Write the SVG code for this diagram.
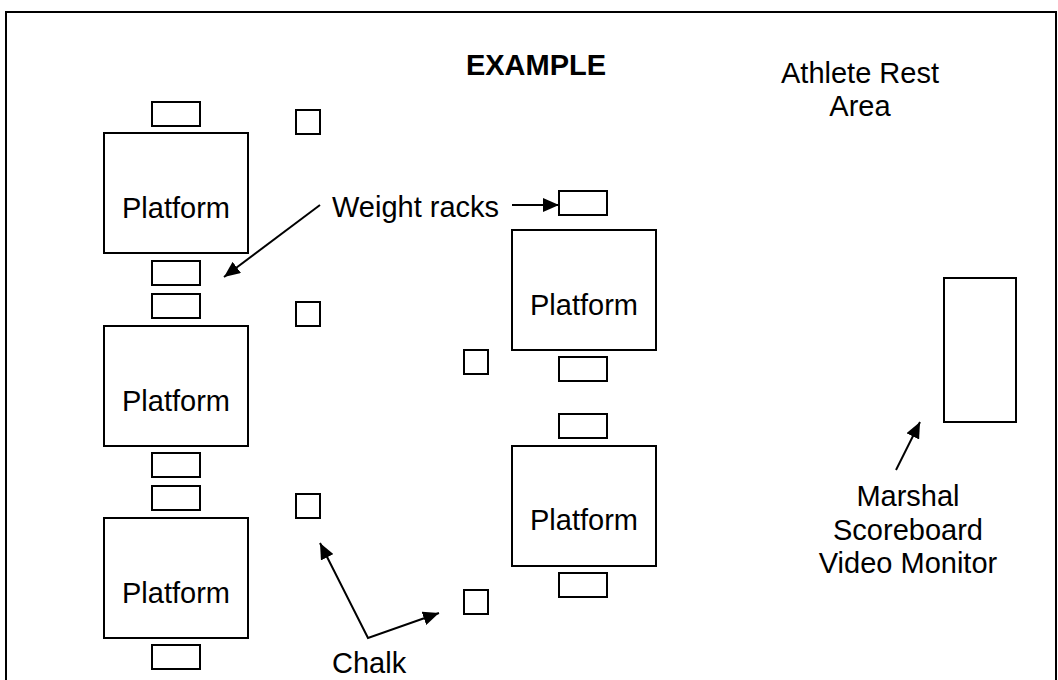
<svg xmlns="http://www.w3.org/2000/svg" width="1058" height="680" viewBox="0 0 1058 680">
  <style>
    .box { fill: #fff; stroke: #000; stroke-width: 2; }
    .lbl { font-family: "Liberation Sans", Arial, sans-serif; font-size: 29px; fill: #000; }
    .title { font-family: "Liberation Sans", Arial, sans-serif; font-size: 29px; font-weight: bold; fill: #000; }
    .arrow { fill: none; stroke: #000; stroke-width: 2; }
  </style>
  <defs>
    <marker id="ah" markerUnits="userSpaceOnUse" markerWidth="18" markerHeight="14" refX="16" refY="7" orient="auto-start-reverse">
      <path d="M0,0 L16,7 L0,14 z" fill="#000"/>
    </marker>
  </defs>
  <rect width="1058" height="680" fill="#fff"/>
  <g id="border">
    <path d="M6,680 L6,12 L1056,12 L1056,680" fill="none" stroke="#000" stroke-width="2"/>
  </g>
  <g id="title"><text class="title" x="536" y="75" text-anchor="middle">EXAMPLE</text></g>
  <g id="rest-area">
    <text class="lbl" x="860" y="83" text-anchor="middle">Athlete Rest</text>
    <text class="lbl" x="860" y="116" text-anchor="middle">Area</text>
  </g>
  <g id="platform1"><rect class="box" x="104" y="133" width="144" height="120"/><text class="lbl" x="176" y="218" text-anchor="middle">Platform</text></g>
  <g id="platform2"><rect class="box" x="104" y="326" width="144" height="120"/><text class="lbl" x="176" y="411" text-anchor="middle">Platform</text></g>
  <g id="platform3"><rect class="box" x="104" y="518" width="144" height="120"/><text class="lbl" x="176" y="603" text-anchor="middle">Platform</text></g>
  <g id="platform4"><rect class="box" x="512" y="230" width="144" height="120"/><text class="lbl" x="584" y="315" text-anchor="middle">Platform</text></g>
  <g id="platform5"><rect class="box" x="512" y="446" width="144" height="120"/><text class="lbl" x="584" y="530" text-anchor="middle">Platform</text></g>
  <g id="racks">
    <rect class="box" x="152" y="102" width="48" height="24"/>
    <rect class="box" x="152" y="261" width="48" height="24"/>
    <rect class="box" x="152" y="294" width="48" height="24"/>
    <rect class="box" x="152" y="453" width="48" height="24"/>
    <rect class="box" x="152" y="486" width="48" height="24"/>
    <rect class="box" x="152" y="645" width="48" height="24"/>
    <rect class="box" x="559" y="191" width="48" height="24"/>
    <rect class="box" x="559" y="357" width="48" height="24"/>
    <rect class="box" x="559" y="414" width="48" height="24"/>
    <rect class="box" x="559" y="573" width="48" height="24"/>
  </g>
  <g id="chalk">
    <rect class="box" x="296" y="110" width="24" height="24"/>
    <rect class="box" x="296" y="302" width="24" height="24"/>
    <rect class="box" x="296" y="494" width="24" height="24"/>
    <rect class="box" x="464" y="350" width="24" height="24"/>
    <rect class="box" x="464" y="590" width="24" height="24"/>
  </g>
  <g id="monitor"><rect class="box" x="944" y="278" width="72" height="144"/></g>
  <g id="weight-racks-label"><text class="lbl" x="332" y="217">Weight racks</text></g>
  <g id="chalk-label"><text class="lbl" x="332" y="673">Chalk</text></g>
  <g id="marshal-label">
    <text class="lbl" x="908" y="506" text-anchor="middle">Marshal</text>
    <text class="lbl" x="908" y="540" text-anchor="middle">Scoreboard</text>
    <text class="lbl" x="908" y="573" text-anchor="middle">Video Monitor</text>
  </g>
  <g id="connectors">
    <line class="arrow" x1="320" y1="205" x2="224" y2="277" marker-end="url(#ah)"/>
    <line class="arrow" x1="512" y1="205" x2="559" y2="205" marker-end="url(#ah)"/>
    <polyline class="arrow" points="320,543 368,638 439,613" marker-start="url(#ah)" marker-end="url(#ah)"/>
    <line class="arrow" x1="896" y1="470" x2="920" y2="422" marker-end="url(#ah)"/>
  </g>
</svg>
